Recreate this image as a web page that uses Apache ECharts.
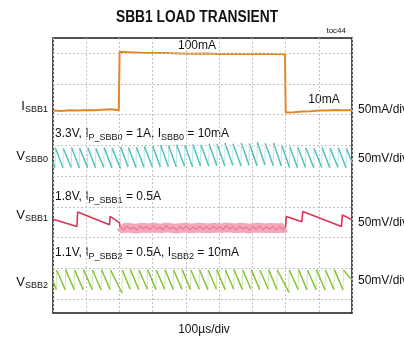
<!DOCTYPE html>
<html><head><meta charset="utf-8">
<script src="https://cdn.jsdelivr.net/npm/echarts@6/dist/echarts.min.js"></script>
<style>html,body{margin:0;padding:0;background:#fff}#c{width:404px;height:339px}</style>
</head><body><div id="c"></div>
<script>
// ---- data (time in µs, amplitude in scope divisions) ----
const titleText = "SBB1 LOAD TRANSIENT";
const tocText = "toc44";
const xLabel = "100\u00b5s/div";
const leftLabels = ["I_{SBB1}", "V_{SBB0}", "V_{SBB1}", "V_{SBB2}"];
const rightLabels = ["50mA/div", "50mV/div", "50mV/div", "50mV/div"];
const condLabels = ["3.3V, I_{P_SBB0} = 1A, I_{SBB0} = 10mA", "1.8V, I_{P_SBB1} = 0.5A", "1.1V, I_{P_SBB2} = 0.5A, I_{SBB2} = 10mA"];
const loadLabels = ["100mA", "10mA"];
const gridRows = [0, 1, 2, 3, 4, 5, 6, 7, 8];

const iSbb1 = [[0,6.13],[25,6.12],[50,6.14],[75,6.13],[100,6.15],[125,6.14],[150,6.16],[175,6.17],[198,6.14],[200.5,8.04],[230,8.03],[260,8.01],[300,8.0],[340,8.0],[380,7.99],[420,7.98],[460,7.99],[500,7.97],[540,7.98],[580,7.97],[620,7.98],[660,7.97],[698,7.96],[700.5,6.07],[725,6.08],[750,6.1],[775,6.11],[800,6.13],[825,6.13],[850,6.15],[875,6.14],[900,6.15]];

const vSbb0 = [[0,4.45],[6,4.28],[7,4.92],[30,4.27],[31,4.9],[55,4.28],[56,4.93],[79,4.27],[80,4.91],[104,4.28],[105,4.92],[128,4.27],[129,4.9],[153,4.28],[154,4.93],[177,4.27],[178,4.91],[203,4.25],[204,4.95],[226,4.3],[227,4.93],[250,4.28],[251,4.95],[274,4.29],[275,4.97],[299,4.3],[300,4.98],[323,4.3],[324,5.0],[347,4.31],[348,4.99],[371,4.3],[372,5.02],[396,4.32],[397,5.0],[420,4.3],[421,5.03],[444,4.33],[445,5.02],[469,4.32],[470,5.05],[493,4.34],[494,5.04],[517,4.33],[518,5.07],[541,4.35],[542,5.05],[566,4.33],[567,5.08],[590,4.35],[591,5.06],[614,4.34],[615,5.1],[638,4.36],[639,5.07],[663,4.34],[664,5.08],[687,4.33],[688,5.02],[712,4.28],[713,4.95],[736,4.27],[737,4.93],[760,4.28],[761,4.92],[785,4.27],[786,4.9],[809,4.28],[810,4.93],[833,4.27],[834,4.91],[858,4.28],[859,4.92],[882,4.27],[883,4.9],[900,4.45]];

const vSbb1 = [[0,2.6],[72,2.36],[74,2.83],[170,2.42],[172,2.69],[200,2.49],[202,2.34]];
const vSbb1After = [[700,2.33],[702,2.69],[749,2.52],[752,2.85],[868,2.36],[871,2.74],[900,2.58]];
const vSbb1Noise = [[202,2.36],[212,2.25],[222,2.38],[232,2.27],[242,2.35],[252,2.24],[262,2.37],[272,2.28],[282,2.36],[292,2.25],[302,2.38],[312,2.27],[322,2.34],[332,2.26],[342,2.39],[352,2.27],[362,2.35],[372,2.24],[382,2.36],[392,2.28],[402,2.37],[412,2.25],[422,2.35],[432,2.27],[442,2.38],[452,2.26],[462,2.36],[472,2.25],[482,2.37],[492,2.28],[502,2.35],[512,2.26],[522,2.39],[532,2.27],[542,2.36],[552,2.25],[562,2.37],[572,2.28],[582,2.35],[592,2.24],[602,2.36],[612,2.27],[622,2.38],[632,2.26],[642,2.35],[652,2.27],[662,2.37],[672,2.25],[682,2.36],[692,2.28],[700,2.33]];

const vSbb2 = [[0,0.6],[10,0.31],[11,0.95],[37,0.3],[38,0.96],[64,0.31],[65,0.95],[91,0.3],[92,0.96],[118,0.31],[119,0.95],[145,0.3],[146,0.96],[172,0.31],[173,0.95],[208,0.2],[209,0.95],[232,0.32],[233,0.96],[258,0.31],[259,0.95],[284,0.32],[285,0.96],[310,0.31],[311,0.95],[336,0.32],[337,0.96],[362,0.31],[363,0.95],[388,0.32],[389,0.96],[414,0.31],[415,0.95],[440,0.32],[441,0.96],[466,0.31],[467,0.95],[492,0.32],[493,0.96],[518,0.31],[519,0.95],[544,0.32],[545,0.96],[570,0.31],[571,0.95],[596,0.32],[597,0.96],[622,0.31],[623,0.95],[648,0.32],[649,0.96],[674,0.31],[675,0.95],[710,0.22],[711,0.95],[738,0.31],[739,0.96],[765,0.3],[766,0.95],[792,0.31],[793,0.96],[819,0.3],[820,0.95],[846,0.31],[847,0.96],[873,0.3],[874,0.95],[900,0.62]];

// ---- helpers ----
// keep only the slow (falling) segments of a sawtooth trace, breaking the line at the fast edges
function slowSegments(arr) {
  const out = [];
  for (let i = 0; i < arr.length - 1; i++) {
    const a = arr[i], b = arr[i + 1];
    if (b[0] - a[0] > 3) { out.push(a, b, null); }
  }
  return out;
}
function toRich(s) {
  let out = "", re = /_\{([^}]*)\}/g, last = 0, m;
  while ((m = re.exec(s))) {
    if (m.index > last) out += "{n|" + s.slice(last, m.index) + "}";
    out += "{s|" + m[1] + "}";
    last = re.lastIndex;
  }
  if (last < s.length) out += "{n|" + s.slice(last) + "}";
  return out;
}
const FONT = "'Liberation Sans', Arial, sans-serif";
function richStyle(size, subSize) {
  return {
    n: { fontSize: size, fontFamily: FONT, lineHeight: size + 2, verticalAlign: 'top', fill: '#111' },
    s: { fontSize: subSize, fontFamily: FONT, lineHeight: subSize + 1, padding: [6, 0, 0, 0], verticalAlign: 'bottom', fill: '#111' }
  };
}
function richText(s, x, y, align, size, subSize) {
  return { type: 'text', x: x, y: y, silent: true,
    style: { text: toRich(s), rich: richStyle(size, subSize), align: align, verticalAlign: 'middle', fill: '#111', font: size + 'px ' + FONT } };
}
function plainText(s, x, y, align, font) {
  return { type: 'text', x: x, y: y, silent: true,
    style: { text: s, align: align, verticalAlign: 'middle', fill: '#111', font: font } };
}

const chart = echarts.init(document.getElementById('c'), null, { renderer: 'canvas' });
const lineBase = { type: 'line', symbol: 'none', silent: true, animation: false, connectNulls: false };

const leftY = [107, 157, 216, 283];
const rightY = [110, 159, 223, 281];
const condPos = [[55, 135], [55, 198], [55, 254]];

const titleEl = plainText(titleText, 197, 18, 'center', "bold 16px " + FONT);
titleEl.scaleX = 0.86;
const graphics = [
  titleEl,
  plainText(tocText, 346, 31, 'right', "8px " + FONT),
  plainText(xLabel, 204, 330, 'center', "12px " + FONT),
  plainText(loadLabels[0], 197, 46, 'center', "12px " + FONT),
  plainText(loadLabels[1], 324, 100, 'center', "12px " + FONT)
];
leftLabels.forEach((s, i) => graphics.push(richText(s, 48, leftY[i], 'right', 13, 9)));
rightLabels.forEach((s, i) => graphics.push(plainText(s, 358, rightY[i], 'left', "12px " + FONT)));
condLabels.forEach((s, i) => graphics.push(richText(s, condPos[i][0], condPos[i][1], 'left', 12, 9)));

chart.setOption({
  animation: false,
  grid: { left: 53, top: 38, width: 299, height: 275, show: true, borderColor: '#1a1a1a', borderWidth: 1.5, backgroundColor: '#fff' },
  xAxis: { type: 'value', min: 0, max: 900, interval: 100,
    axisLine: { show: false }, axisTick: { show: false }, axisLabel: { show: false },
    splitLine: { show: true, lineStyle: { color: '#c4c4c4', width: 1, type: [2, 2] } } },
  yAxis: { type: 'value', min: -0.45, max: 8.49,
    axisLine: { show: false }, axisTick: { show: false }, axisLabel: { show: false },
    splitLine: { show: false } },
  graphic: graphics,
  series: [
    Object.assign({}, lineBase, { data: [], markLine: { silent: true, symbol: 'none', label: { show: false },
      lineStyle: { color: '#c4c4c4', width: 1, type: [2, 2] },
      data: gridRows.map(v => ({ yAxis: v })) } }),
    Object.assign({}, lineBase, { data: iSbb1, lineStyle: { color: '#E0892B', width: 2 } }),
    Object.assign({}, lineBase, { data: vSbb0, lineStyle: { color: '#A9E0DD', width: 0.8 } }),
    Object.assign({}, lineBase, { data: slowSegments(vSbb0), lineStyle: { color: '#4FC0BB', width: 1.4 } }),
    Object.assign({}, lineBase, { data: vSbb1, lineStyle: { color: '#DD3356', width: 1.6 } }),
    Object.assign({}, lineBase, { data: vSbb1After, lineStyle: { color: '#DD3356', width: 1.6 } }),
    Object.assign({}, lineBase, { data: vSbb1Noise, lineStyle: { color: '#F4A6B7', width: 9 } }),
    Object.assign({}, lineBase, { data: vSbb1Noise, lineStyle: { color: '#E2506F', width: 0.8 } }),
    Object.assign({}, lineBase, { data: vSbb2, lineStyle: { color: '#C6E4A0', width: 0.8 } }),
    Object.assign({}, lineBase, { data: slowSegments(vSbb2), lineStyle: { color: '#86C23A', width: 1.4 } })
  ]
});
</script></body></html>
